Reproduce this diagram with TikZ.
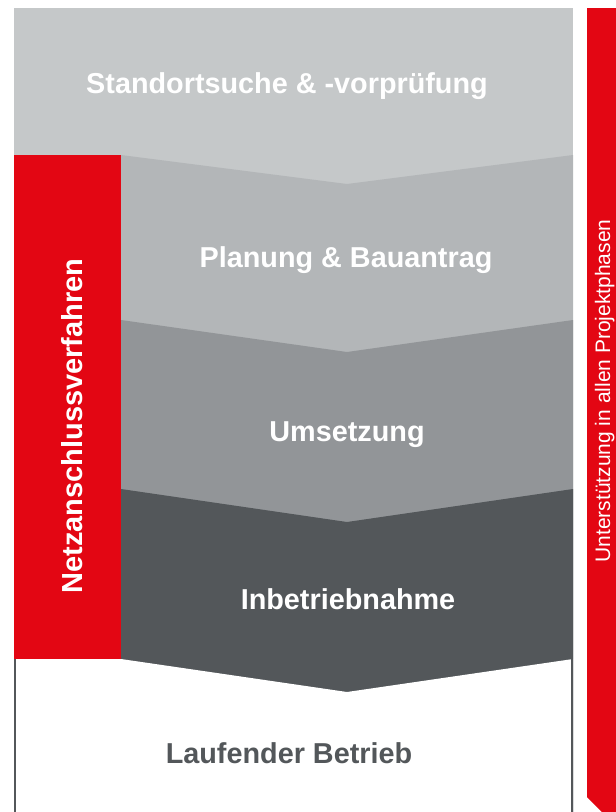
\documentclass[tikz,border=0pt]{standalone}
\usepackage{fontspec}
\setmainfont{Liberation Sans}
\usepackage{tikz}
\definecolor{phaseA}{HTML}{C5C8C9}
\definecolor{phaseB}{HTML}{B3B6B8}
\definecolor{phaseC}{HTML}{929598}
\definecolor{phaseD}{HTML}{53575A}
\definecolor{signal}{HTML}{E30613}
\tikzstyle{phase} = [text=white, anchor=base, inner sep=0pt,
    font=\fontsize{28.8}{30}\selectfont\bfseries]
\tikzstyle{sidebar} = [text=white, anchor=base, inner sep=0pt, rotate=90,
    font=\fontsize{29}{30}\selectfont\bfseries]
\tikzstyle{support} = [text=white, anchor=base, inner sep=0pt, rotate=90,
    font=\fontsize{21}{23}\selectfont]
\tikzstyle{rim} = [draw=phaseD, line width=2pt]

\begin{document}
\begin{tikzpicture}[x=1pt, y=-1pt]
\useasboundingbox (0,0) rectangle (616,812);
    % Draw bands
\fill[phaseA] (14,8) rectangle (573,200);
\fill[phaseB] (14,155) -- (121,155) -- (347,184) -- (573,155) -- (573,812) -- (14,812) -- cycle;
\fill[phaseC] (14,320) -- (121,320) -- (347,352) -- (573,320) -- (573,812) -- (14,812) -- cycle;
\fill[phaseD] (14,489) -- (121,489) -- (347,522) -- (573,489) -- (573,812) -- (14,812) -- cycle;
\fill[white] (14,659) -- (121,659) -- (347,692) -- (573,659) -- (573,812) -- (14,812) -- cycle;
\path[rim] (15,659) -- (15,812);
\path[rim] (572,659) -- (572,812);
\fill[signal] (14,155) rectangle (121,659);
\fill[signal] (587,8) -- (616,8) -- (616,812) -- (602,812) -- (587,797) -- cycle;

    % Place nodes
\node[phase] (search) at (287,93) {Standortsuche \& -vorprüfung};
\node[phase] (plan) at (346,267) {Planung \& Bauantrag};
\node[phase] (build) at (347,441) {Umsetzung};
\node[phase] (start) at (348,609) {Inbetriebnahme};
\node[phase, text=phaseD] (run) at (289,763) {Laufender Betrieb};
\node[sidebar] (grid) at (82,426) {Netzanschlussverfahren};
\node[support] (help) at (610,391) {Unterstützung in allen Projektphasen};

\end{tikzpicture}
\end{document}
